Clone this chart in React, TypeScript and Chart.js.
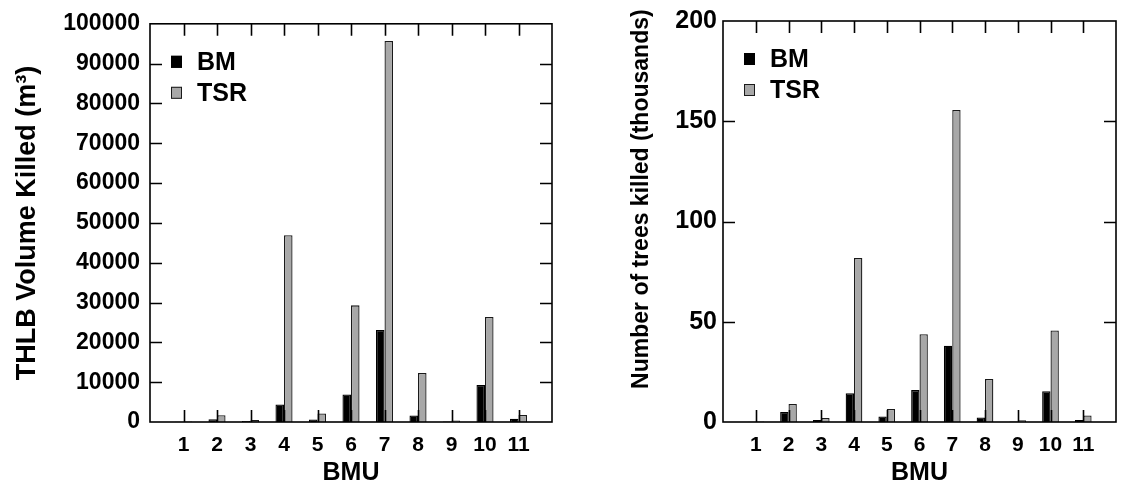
import React, { useEffect, useRef } from "react";
import { Chart, registerables } from "chart.js";

Chart.register(...registerables);

// ---- data ----
const categories = [1, 2, 3, 4, 5, 6, 7, 8, 9, 10, 11];
const volumeBM = [50, 700, 250, 4400, 650, 6900, 23100, 1650, 150, 9300, 800];
const volumeTSR = [100, 1700, 500, 46900, 2150, 29300, 95700, 12300, 400, 26400, 1750];
const treesBM = [0.1, 5.0, 1.0, 14.4, 2.8, 15.9, 38.0, 2.3, 0.3, 15.3, 1.0];
const treesTSR = [0.2, 9.0, 2.0, 81.8, 6.5, 43.8, 155.6, 21.5, 0.9, 45.6, 3.3];
const seriesLabels = ["BM", "TSR"];
const xMin = 0;
const xMax = 12;
const volumeMax = 100000;
const volumeStep = 10000;
const treesMax = 200;
const treesStep = 50;

const FONT = "'Liberation Sans', Arial, Helvetica, sans-serif";
const COLORS = ["#000000", "#a8a8a8"];
const BORDERS = ["#000000", "#1a1a1a"];

const framePlugin = {
  id: "frameTicksLegend",
  afterDatasetsDraw(chart: any) {
    const { ctx, chartArea: a, scales } = chart;
    const L = 12;
    ctx.save();
    ctx.strokeStyle = "#000";
    ctx.lineWidth = 1.6;
    ctx.strokeRect(a.left, a.top, a.right - a.left, a.bottom - a.top);
    ctx.beginPath();
    scales.x.ticks.forEach((t: any) => {
      if (t.value <= scales.x.min || t.value >= scales.x.max) return;
      const px = Math.round(scales.x.getPixelForValue(t.value)) + 0.5;
      ctx.moveTo(px, a.bottom);
      ctx.lineTo(px, a.bottom - L);
      ctx.moveTo(px, a.top);
      ctx.lineTo(px, a.top + L);
    });
    scales.y.ticks.forEach((t: any) => {
      if (t.value <= scales.y.min || t.value >= scales.y.max) return;
      const py = Math.round(scales.y.getPixelForValue(t.value)) + 0.5;
      ctx.moveTo(a.left, py);
      ctx.lineTo(a.left + L, py);
      ctx.moveTo(a.right, py);
      ctx.lineTo(a.right - L, py);
    });
    ctx.stroke();

    // legend
    chart.data.datasets.forEach((ds: any, i: number) => {
      const bx = a.left + 21;
      const cy = a.top + 38 + 31 * i;
      ctx.fillStyle = ds.backgroundColor;
      ctx.fillRect(bx, cy - 6, 11, 12);
      ctx.lineWidth = 1;
      ctx.strokeStyle = ds.borderColor;
      ctx.strokeRect(bx + 0.5, cy - 5.5, 10, 11);
      ctx.fillStyle = "#000";
      ctx.font = `bold 25px ${FONT}`;
      ctx.textBaseline = "middle";
      ctx.textAlign = "left";
      ctx.fillText(ds.label, a.left + 47, cy + 1);
    });
    ctx.restore();
  },
};

function makeConfig(
  bm: number[],
  tsr: number[],
  yMax: number,
  yStep: number,
  yTitle: string,
  yTitleSize: number,
  yTitleOffset: number,
  yWidth: number,
  padRight: number,
  tickPad: number,
  tickSize: number
): any {
  const series = [bm, tsr];
  return {
    type: "bar",
    data: {
      datasets: series.map((vals, s) => ({
        label: seriesLabels[s],
        data: categories.map((c, i) => ({ x: c, y: vals[i] })),
        backgroundColor: COLORS[s],
        borderColor: BORDERS[s],
        borderWidth: 1.3,
        categoryPercentage: 0.51,
        barPercentage: 1,
      })),
    },
    options: {
      responsive: false,
      animation: false,
      layout: { padding: { top: 20, right: padRight, bottom: 0, left: 0 } },
      plugins: { legend: { display: false }, tooltip: { enabled: false } },
      scales: {
        x: {
          type: "linear",
          min: xMin,
          max: xMax,
          offset: false,
          grid: { display: false, drawTicks: false },
          border: { display: false },
          ticks: {
            stepSize: 1,
            autoSkip: false,
            maxRotation: 0,
            padding: 11,
            color: "#000",
            font: { family: FONT, size: 21, weight: "bold" },
            callback: (v: any) => (categories.includes(Number(v)) ? String(v) : ""),
          },
          title: {
            display: true,
            text: "BMU",
            color: "#000",
            font: { family: FONT, size: 25, weight: "bold" },
            padding: { top: 0, bottom: 0 },
          },
          afterFit: (s: any) => {
            s.height = 66;
          },
        },
        y: {
          min: 0,
          max: yMax,
          grid: { display: false, drawTicks: false },
          border: { display: false },
          ticks: {
            stepSize: yStep,
            padding: tickPad,
            color: "#000",
            font: { family: FONT, size: tickSize, weight: "bold" },
            callback: (v: any) => String(v),
          },
          title: {
            display: true,
            text: yTitle,
            color: "#000",
            font: { family: FONT, size: yTitleSize, weight: "bold" },
            padding: { top: yTitleOffset, bottom: 0 },
          },
          afterFit: (s: any) => {
            s.width = yWidth;
          },
        },
      },
    },
    plugins: [framePlugin],
  };
}

function BarPanel(props: { config: any; left: number; width: number }) {
  const ref = useRef<HTMLCanvasElement | null>(null);
  useEffect(() => {
    if (!ref.current) return;
    const chart = new Chart(ref.current, props.config);
    return () => chart.destroy();
  }, []);
  return (
    <div style={{ position: "absolute", left: props.left, top: 0, width: props.width, height: 488 }}>
      <canvas ref={ref} width={props.width} height={488} style={{ width: props.width, height: 488, display: "block" }} />
    </div>
  );
}

export default function App() {
  const leftCfg = makeConfig(volumeBM, volumeTSR, volumeMax, volumeStep, "THLB Volume Killed (m³)", 27, 11, 150, 11, 10, 23);
  const rightCfg = makeConfig(treesBM, treesTSR, treesMax, treesStep, "       Number of trees killed (thousands)", 23, 65, 160, 1, 6, 25);
  return (
    <div style={{ position: "fixed", left: 0, top: 0, width: 1127, height: 488, background: "#fff", overflow: "hidden" }}>
      <BarPanel config={leftCfg} left={0} width={563} />
      <BarPanel config={rightCfg} left={563} width={564} />
    </div>
  );
}
